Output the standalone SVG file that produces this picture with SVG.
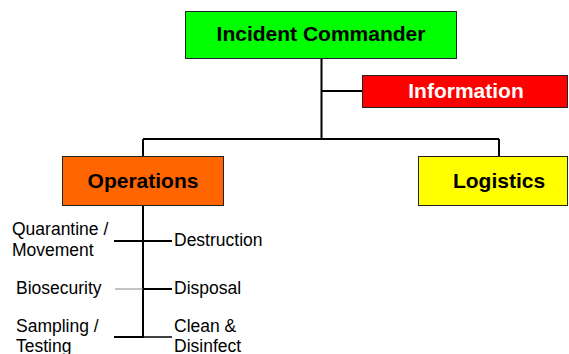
<svg xmlns="http://www.w3.org/2000/svg" width="569" height="354" viewBox="0 0 569 354">
<style>
.box{stroke:#222;stroke-width:1}
.t{font-family:"Liberation Sans",Arial,sans-serif;font-weight:bold;font-size:21px;text-anchor:middle}
.s{font-family:"Liberation Sans",Arial,sans-serif;font-size:17.5px;fill:#000}
.ln{stroke:#000;stroke-width:2;fill:none}
.lt{stroke:#000;stroke-width:1.5;fill:none}
</style>
<rect width="569" height="354" fill="#fff"/>
<g id="connectors">
<path class="ln" d="M321.5 58V139M321.5 91H362M143 139H499M143 139V156M499 139V156M143 205V338"/>
<path class="ln" d="M114 241H172"/>
<path d="M115 289H143" stroke="#888" stroke-width="1"/>
<path class="ln" d="M143 289H172"/>
<path class="ln" d="M114 337H143"/>
<path class="lt" d="M143 337H172"/>
</g>
<g id="incident-commander">
<rect class="box" x="185.5" y="11.5" width="271" height="47" fill="#00ff00"/>
<text class="t" x="321" y="41">Incident Commander</text>
</g>
<g id="information">
<rect class="box" x="362.5" y="75.5" width="205" height="32" fill="#ff0000"/>
<text class="t" x="466" y="98" fill="#fff">Information</text>
</g>
<g id="operations">
<rect class="box" x="62.5" y="156.5" width="161" height="49" fill="#ff6600"/>
<text class="t" x="143" y="188">Operations</text>
</g>
<g id="logistics">
<rect class="box" x="418.5" y="156.5" width="149" height="49" fill="#ffff00"/>
<text class="t" x="499" y="188">Logistics</text>
</g>
<g id="labels">
<text class="s" x="12" y="235">Quarantine /</text>
<text class="s" x="12" y="256">Movement</text>
<text class="s" x="174" y="246">Destruction</text>
<text class="s" x="16" y="294">Biosecurity</text>
<text class="s" x="174" y="294">Disposal</text>
<text class="s" x="16" y="332">Sampling /</text>
<text class="s" x="16" y="352">Testing</text>
<text class="s" x="174" y="332">Clean &amp;</text>
<text class="s" x="174" y="352">Disinfect</text>
</g>
</svg>
